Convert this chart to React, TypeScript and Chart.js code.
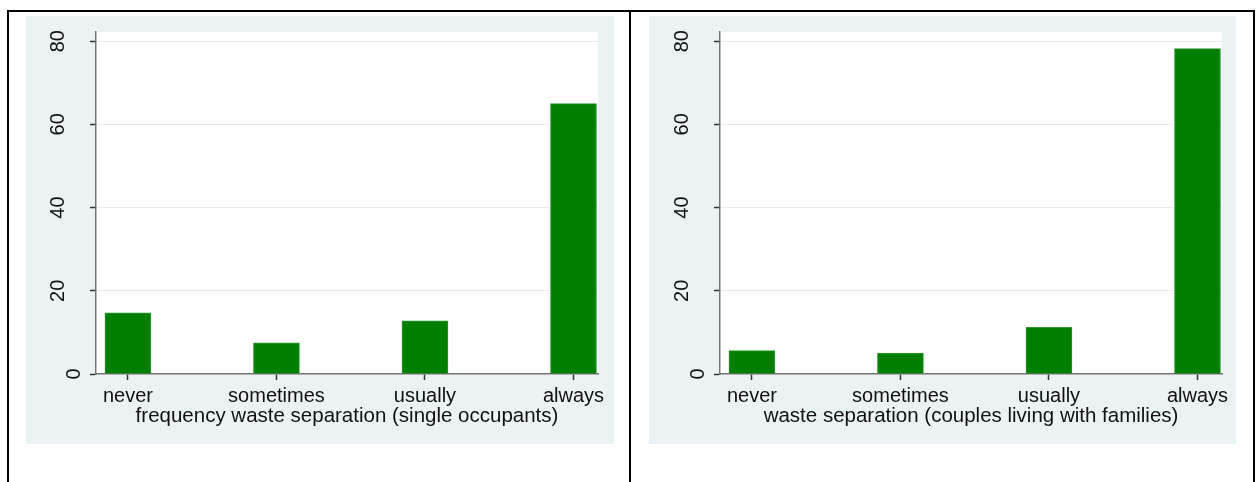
import React, { useEffect, useRef } from "react";
import { Chart, registerables } from "chart.js";

Chart.register(...registerables);

// ---- data ----
const categories = ["never", "sometimes", "usually", "always"];
const singleOccupants = [14.7, 7.5, 12.8, 65.0];
const couplesWithFamilies = [5.6, 5.0, 11.2, 78.2];
const yTicks = [0, 20, 40, 60, 80];
const yMax = 82.2;
const leftTitle = "frequency waste separation (single occupants)";
const rightTitle = "waste separation (couples living with families)";

// ---- style ----
const FONT = '"Liberation Sans", Arial, Helvetica, sans-serif';
const PANEL_BG = "#eaf2f3";
const BAR_FILL = "#007f00";
const BAR_EDGE = "#2e9a2e";
const TEXT = "#111111";
const AXIS = "#747474";
const TICK = "#333333";
const GRID = "#e2ebee";

Chart.defaults.font.family = FONT;

const plotBackground = {
  id: "plotBackground",
  beforeDraw(chart: any) {
    const { ctx, chartArea } = chart;
    if (!chartArea) return;
    ctx.save();
    ctx.fillStyle = "#ffffff";
    ctx.fillRect(chartArea.left, chartArea.top, chartArea.right - chartArea.left, chartArea.bottom - chartArea.top);
    ctx.restore();
  },
};

// vertical (rotated) y tick labels placed from the library's own y scale
const rotatedYLabels = {
  id: "rotatedYLabels",
  afterDraw(chart: any) {
    const { ctx, chartArea } = chart;
    const scale = chart.scales.y;
    ctx.save();
    ctx.font = `20px ${FONT}`;
    ctx.fillStyle = TEXT;
    ctx.textAlign = "center";
    ctx.textBaseline = "middle";
    scale.ticks.forEach((t: any) => {
      const label = String(t.value);
      const py = scale.getPixelForValue(t.value);
      const px = chartArea.left - 38 + (label.length === 1 ? 16 : 0);
      ctx.save();
      ctx.translate(px, py);
      ctx.rotate(-Math.PI / 2);
      ctx.fillText(label, 0, 0);
      ctx.restore();
    });
    ctx.restore();
  },
};

type PanelProps = {
  values: number[];
  title: string;
  left: number;
  width: number;
  axisWidth: number;
  rightPad: number;
};

function Panel({ values, title, left, width, axisWidth, rightPad }: PanelProps) {
  const ref = useRef<HTMLCanvasElement>(null);
  const height = 428;

  useEffect(() => {
    const canvas = ref.current;
    if (!canvas) return;
    const chart = new Chart(canvas, {
      type: "bar",
      data: {
        datasets: [
          {
            data: values.map((v, i) => ({ x: i + 1, y: v })),
            backgroundColor: BAR_FILL,
            borderColor: BAR_EDGE,
            borderWidth: 1,
            barThickness: 46,
          } as any,
        ],
      },
      options: {
        animation: false,
        responsive: false,
        events: [],
        layout: { padding: { top: 16, right: rightPad, left: 0, bottom: 0 } },
        plugins: {
          legend: { display: false },
          tooltip: { enabled: false },
        },
        scales: {
          x: {
            type: "linear",
            min: 0.785,
            max: 4.165,
            offset: false,
            afterBuildTicks: (s: any) => {
              s.ticks = categories.map((_, i) => ({ value: i + 1 }));
            },
            afterFit: (s: any) => {
              s.height = 70;
            },
            ticks: {
              callback: (v: any) => categories[Math.round(Number(v)) - 1] ?? "",
              font: { size: 20, family: FONT },
              color: TEXT,
              padding: 4.5,
              maxRotation: 0,
              minRotation: 0,
              autoSkip: false,
            },
            grid: {
              display: true,
              offset: false,
              drawOnChartArea: false,
              drawTicks: true,
              tickLength: 6,
              tickColor: TICK,
              tickWidth: 1.5,
            },
            border: { display: true, color: AXIS, width: 1.5 },
            title: {
              display: true,
              text: title,
              font: { size: 20.5, family: FONT },
              color: TEXT,
              padding: { top: 0, bottom: 15.5 },
            },
          } as any,
          y: {
            type: "linear",
            min: 0,
            max: yMax,
            afterBuildTicks: (s: any) => {
              s.ticks = yTicks.map((v) => ({ value: v }));
            },
            afterFit: (s: any) => {
              s.width = axisWidth;
            },
            ticks: { display: false },
            grid: {
              color: (ctx: any) => (ctx.tick && ctx.tick.value === 0 ? "rgba(0,0,0,0)" : GRID),
              lineWidth: 1,
              drawTicks: true,
              tickLength: 6,
              tickColor: TICK,
              tickWidth: 1.5,
            },
            border: { display: true, color: AXIS, width: 1.5 },
          } as any,
        },
      } as any,
      plugins: [plotBackground, rotatedYLabels],
    });
    return () => chart.destroy();
  }, [values, title, axisWidth, rightPad]);

  return (
    <canvas
      ref={ref}
      width={width}
      height={height}
      style={{
        position: "absolute",
        left,
        top: 16,
        width,
        height,
        background: PANEL_BG,
      }}
    />
  );
}

export default function App() {
  return (
    <div
      style={{
        position: "fixed",
        left: 0,
        top: 0,
        width: 1259,
        height: 482,
        background: "#ffffff",
        overflow: "hidden",
      }}
    >
      <div
        style={{
          position: "absolute",
          left: 7,
          top: 10,
          width: 1244,
          height: 480,
          borderTop: "2px solid #000",
          borderLeft: "2px solid #000",
          borderRight: "2px solid #000",
        }}
      />
      <div style={{ position: "absolute", left: 629, top: 10, width: 2, height: 480, background: "#000" }} />
      <Panel values={singleOccupants} title={leftTitle} left={26} width={588} axisWidth={70} rightPad={16} />
      <Panel values={couplesWithFamilies} title={rightTitle} left={649} width={587} axisWidth={71} rightPad={14} />
    </div>
  );
}
